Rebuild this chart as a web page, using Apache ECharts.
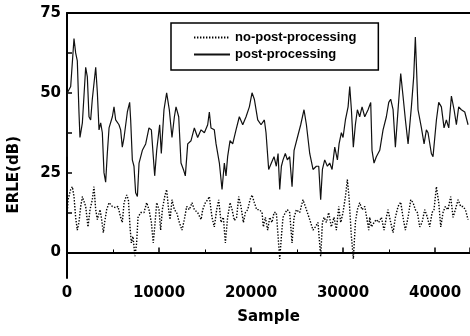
<!DOCTYPE html>
<html>
<head>
<meta charset="utf-8">
<script src="https://cdn.jsdelivr.net/npm/echarts@6/dist/echarts.min.js"></script>
<style>
  html, body { margin: 0; padding: 0; background: #fff; }
  #chart { width: 470px; height: 336px; }
</style>
</head>
<body>
<div id="chart"></div>
<script>
// post-processing (solid)
var postX = [0, 40, 400, 760, 940, 1120, 1300, 1410, 1670, 2030, 2210, 2390, 2570, 2750, 3120, 3300, 3480, 3660, 3840, 4020, 4200, 4380, 4570, 4930, 5110, 5290, 5650, 5830, 6010, 6200, 6560, 6810, 6920, 7100, 7280, 7460, 7650, 7830, 8190, 8550, 8910, 9170, 9380, 9530, 9750, 10070, 10250, 10540, 10830,
  11120, 11410, 11670, 11850, 12140, 12390, 12650, 12860, 13120, 13480, 13840, 14200, 14570, 14930, 15290, 15470, 15650, 16010, 16200, 16560, 16850, 17100, 17280, 17460, 17720, 18010, 18370, 18730, 19100, 19460, 19820, 20110, 20360, 20730, 21090, 21450, 21630, 21920,
  22210, 22500, 22750, 22940, 23120, 23300, 23480, 23730, 23950, 24200, 24460, 24680, 25040, 25400, 25760, 26020, 26380, 26740, 27100, 27360, 27570, 27760, 28010, 28300, 28550, 28810, 29100, 29390, 29570, 29820, 30000, 30260, 30550, 30730, 30910, 31120, 31340, 31560, 31810, 32070, 32360, 32720,
  33010, 33150, 33370, 33620, 33990, 34350, 34710, 34970, 35180, 35440, 35690, 35980, 36270, 36520, 36780, 37070, 37430, 37680, 37860, 37970, 38150, 38520, 38810, 39060, 39240, 39600, 39780, 40150, 40400, 40690, 40980, 41230, 41490, 41780, 42070, 42320, 42570, 42860, 43230, 43590];
var postY = [30, 50, 52, 67, 62.5, 60, 44, 36, 40.6, 58, 55, 42.5, 41.5, 48, 58, 50, 38.4, 40.6, 37.5, 25, 22, 31, 39, 42.5, 45.6, 41.5, 40, 38.4, 33, 36, 44, 47, 41.5, 29, 27, 18.7, 17.5, 28, 32, 34, 39, 38.4, 30, 24, 32, 40, 31, 44.7, 50,
  44.7, 36, 42.5, 45.6, 42.5, 28, 26, 24, 34, 35, 39, 36, 38.4, 37.5, 40, 44, 39, 38.4, 34, 28, 19.7, 28, 24, 30, 35, 34, 38.4, 42.5, 40, 42.5, 45.6, 50, 48, 41.5, 40, 41.5, 37.5, 26,
  28, 30, 27, 31, 19.7, 27, 29, 31, 29, 30, 20.6, 32, 36, 40, 44.7, 40, 31, 26, 27, 27, 16.5, 26, 29, 27, 28, 26, 33, 29, 34, 37.5, 36, 41.5, 45.6, 52, 44.7, 33, 40, 44.7, 42.5, 45.6, 42.5, 44.7,
  47, 32, 28, 30, 32, 38.4, 42.5, 47, 48, 44.7, 33, 44.7, 56, 49, 41.5, 34, 45.6, 55, 67.5, 59, 44.7, 39, 34, 38.4, 37.5, 31, 30, 41.5, 47, 45.6, 39, 41.5, 39, 49, 44.7, 40, 45.6, 44.7, 44, 40];

// no-post-processing (dotted)
var noPostX = [0, 110, 400, 580, 760, 940, 1120, 1300, 1490, 1670, 1850, 2030, 2280, 2500, 2750, 2930, 3120, 3300, 3590, 3730, 3950, 4090, 4310, 4570, 4930, 5290, 5540, 5830, 6010, 6200, 6490, 6670, 6850, 6990, 7170, 7390, 7570, 7720, 8010, 8370, 8660, 8910, 9170, 9380, 9530, 9750, 10000, 10180, 10360, 10620, 10830,
  11050, 11200, 11410, 11670, 11920, 12210, 12500, 12750, 13010, 13300, 13590, 13840, 14200, 14570, 14750, 15040, 15290, 15470, 15760, 16010, 16270, 16490, 16740, 16990, 17210, 17460, 17720, 17940, 18190, 18440, 18660, 18910, 19170, 19390, 19640, 19890, 20110, 20360, 20620, 20910, 21200, 21340, 21560, 21810,
  22030, 22280, 22500, 22750, 22940, 23120, 23300, 23480, 23730, 23950, 24200, 24460, 24680, 24930, 25290, 25650, 26020, 26380, 26740, 26990, 27280, 27570, 27760, 27940, 28190, 28440, 28730, 29020, 29280, 29530, 29750, 30000, 30260, 30470, 30650, 30910, 31120, 31340, 31560, 31810, 32070, 32360, 32570, 32790,
  32900, 33080, 33370, 33620, 33880, 34170, 34460, 34710, 34890, 35180, 35440, 35690, 35980, 36270, 36520, 36780, 37070, 37360, 37610, 37860, 38080, 38340, 38590, 38880, 39170, 39420, 39680, 39890, 40150, 40400, 40620, 40870, 41120, 41410, 41700, 41960, 42210, 42500, 42790, 43040, 43300, 43590];
var noPostY = [11, 16.5, 19.7, 20.6, 17.5, 11, 7, 9.4, 14.4, 17.5, 17.5, 14.4, 8, 13.4, 16.5, 20.6, 13.4, 10.3, 13.4, 11, 6.2, 9.4, 13.4, 15.6, 14.4, 14, 14.4, 11, 9.4, 15.6, 18, 16.5, 8, 3, 5, -1.2, 3, 11, 12.5, 12.5, 15.6, 13.4, 9.4, 3, 8, 15.6, 13.4, 7, 13.4, 17.5, 19.7,
  13.4, 10.3, 16.5, 13.4, 12.5, 9.4, 7, 10.3, 14.4, 13.4, 15.6, 13.4, 12.5, 10.3, 13.4, 15.6, 16.5, 17.5, 11, 8, 13.4, 16.5, 9.4, 11, 3, 11, 15.6, 13.4, 10, 11, 17.5, 14.4, 9.4, 12.5, 13.4, 16.5, 18, 15.6, 13.4, 13.4, 12.5, 8, 11, 7,
  11, 9.4, 12.5, 12.5, 5, -2, 5, 11, 12.5, 13.4, 12.5, 3, 11, 13.4, 12.5, 16.5, 13.4, 10.3, 7, 8, 9.4, -1.2, 9.4, 11, 9.4, 12.5, 8, 11, 7, 14.4, 9.4, 12.5, 17.5, 22.8, 17.5, 5, -2, 9.4, 13.4, 15.6, 13.4, 14.4, 11, 7,
  11, 8, 9.4, 10.3, 9.4, 11, 7, 11, 13.4, 9.4, 6.2, 11, 14.4, 15.8, 11, 7, 11, 16.5, 15.6, 13.4, 12.5, 8, 9.4, 13.4, 11, 8, 12.5, 13.4, 20.6, 15.6, 8, 12.5, 14.4, 13.4, 17.5, 11, 13.4, 16.5, 14.4, 14.4, 13.4, 10.3];

var yTicks = [0, 12.5, 25, 37.5, 50, 62.5, 75];
var yLabels = [0, 25, 50, 75];
var xMax = 43800;

function pairs(xs, ys) {
  var out = [];
  for (var i = 0; i < xs.length; i++) {
    out.push([xs[i], ys[i]]);
  }
  return out;
}

var tickFont = {
  color: '#000',
  fontFamily: 'DejaVu Sans',
  fontWeight: 'bold',
  fontSize: 15
};

var myChart = echarts.init(document.getElementById('chart'));
var option = {
  animation: false,
  backgroundColor: '#fff',
  grid: {
    left: 67,
    right: 0,
    top: 13,
    bottom: 58
  },
  legend: {
    orient: 'vertical',
    left: 171,
    top: 23,
    padding: [8, 22, 9, 22],
    itemWidth: 36,
    itemHeight: 14,
    itemGap: 4,
    borderColor: '#000',
    borderWidth: 1.5,
    itemStyle: { opacity: 0 },
    textStyle: {
      color: '#000',
      fontFamily: 'Liberation Sans',
      fontWeight: 'bold',
      fontSize: 13
    },
    data: ['no-post-processing', 'post-processing']
  },
  xAxis: [{
    type: 'value',
    min: 0,
    max: xMax,
    interval: 10000,
    name: 'Sample',
    nameLocation: 'middle',
    nameGap: 32,
    nameTextStyle: tickFont,
    axisLine: { show: true, lineStyle: { color: '#000', width: 2 } },
    axisTick: { show: true, inside: true, length: 5, lineStyle: { color: '#000', width: 1.5 } },
    minorTick: { show: true, splitNumber: 2, length: 3, lineStyle: { color: '#000', width: 1 } },
    axisLabel: Object.assign({
      margin: 8,
      formatter: function (v) { return String(v); }
    }, tickFont),
    splitLine: { show: false }
  }, {
    type: 'value',
    position: 'top',
    min: 0,
    max: xMax,
    axisLine: { show: true, lineStyle: { color: '#000', width: 2 } },
    axisTick: { show: false },
    axisLabel: { show: false },
    splitLine: { show: false }
  }],
  yAxis: {
    type: 'value',
    min: -8,
    max: 75,
    axisLine: { show: true, lineStyle: { color: '#000', width: 2 } },
    axisTick: {
      show: true,
      inside: true,
      length: 5,
      customValues: yTicks,
      lineStyle: { color: '#000', width: 1.5 }
    },
    axisLabel: Object.assign({ margin: 6, customValues: yLabels }, tickFont),
    splitLine: { show: false }
  },
  graphic: [{
    type: 'text',
    left: 7,
    top: 136,
    rotation: Math.PI / 2,
    style: {
      text: 'ERLE(dB)',
      fill: '#000',
      font: 'bold 15px "DejaVu Sans"'
    }
  }],
  series: [{
    name: 'no-post-processing',
    type: 'line',
    symbol: 'none',
    data: pairs(noPostX, noPostY),
    lineStyle: { color: '#000', width: 1.4, type: [1.4, 1.6] },
    itemStyle: { color: '#000' }
  }, {
    name: 'post-processing',
    type: 'line',
    symbol: 'none',
    data: pairs(postX, postY),
    lineStyle: { color: '#111', width: 1.2 },
    itemStyle: { color: '#111' }
  }]
};
myChart.setOption(option);
</script>
</body>
</html>
